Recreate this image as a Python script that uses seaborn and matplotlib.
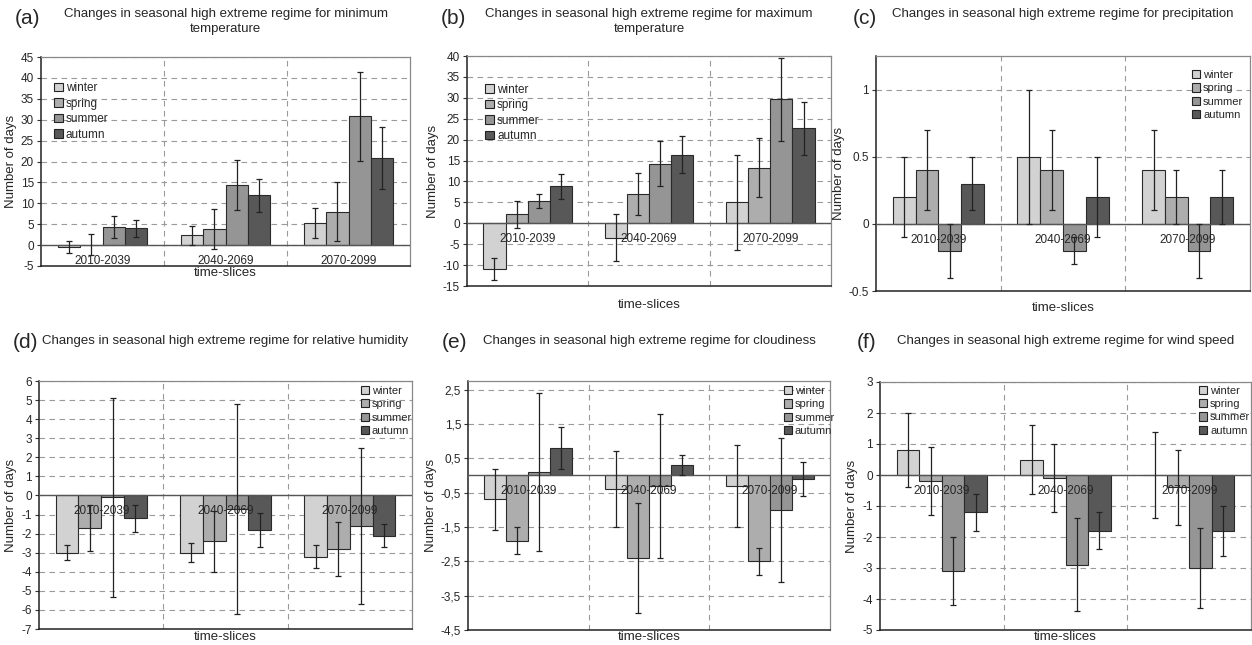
import pandas as pd
import seaborn as sns
import matplotlib.pyplot as plt
import numpy as np
from matplotlib.ticker import FuncFormatter

sns.set_style('white')
plt.rcParams['font.family'] = ['Liberation Sans', 'DejaVu Sans']

slices = ['2010-2039', '2040-2069', '2070-2099']
seasons = ['winter', 'spring', 'summer', 'autumn']
colors = ['#d2d2d2', '#adadad', '#959595', '#585858']

# values, one list per season (winter, spring, summer, autumn)
tmin_val = [[-0.5, 2.3, 5.2], [0.05, 3.8, 8.0], [4.3, 14.4, 30.8], [4.0, 11.9, 20.8]]
tmin_err = [[1.4, 2.2, 3.6], [2.5, 4.8, 7.0], [2.7, 5.9, 10.6], [2.0, 3.9, 7.4]]

tmax_val = [[-11.0, -3.5, 5.0], [2.1, 7.0, 13.3], [5.3, 14.2, 29.6], [8.8, 16.4, 22.7]]
tmax_err = [[2.6, 5.6, 11.4], [3.3, 5.0, 7.0], [1.7, 5.4, 10.0], [3.0, 4.4, 6.3]]

prec_val = [[0.2, 0.5, 0.4], [0.4, 0.4, 0.2], [-0.2, -0.2, -0.2], [0.3, 0.2, 0.2]]
prec_err = [[0.3, 0.5, 0.3], [0.3, 0.3, 0.2], [0.2, 0.1, 0.2], [0.2, 0.3, 0.2]]

rh_val = [[-3.0, -3.0, -3.2], [-1.7, -2.4, -2.8], [-0.1, -0.7, -1.6], [-1.2, -1.8, -2.1]]
rh_err = [[0.4, 0.5, 0.6], [1.2, 1.6, 1.4], [5.2, 5.5, 4.1], [0.7, 0.9, 0.6]]

cloud_val = [[-0.7, -0.4, -0.3], [-1.9, -2.4, -2.5], [0.1, -0.3, -1.0], [0.8, 0.3, -0.1]]
cloud_err = [[0.9, 1.1, 1.2], [0.4, 1.6, 0.4], [2.3, 2.1, 2.1], [0.6, 0.3, 0.5]]

wind_val = [[0.8, 0.5, 0.0], [-0.2, -0.1, -0.4], [-3.1, -2.9, -3.0], [-1.2, -1.8, -1.8]]
wind_err = [[1.2, 1.1, 1.4], [1.1, 1.1, 1.2], [1.1, 1.5, 1.3], [0.6, 0.6, 0.8]]

panels = [
    dict(tag='(a)', title='Changes in seasonal high extreme regime for minimum\ntemperature',
         val=tmin_val, err=tmin_err, ylim=(-5, 45), ticks=np.arange(-5, 46, 5),
         box=(41, 57, 410, 266), leg=(0.035, 0.88), xl=273, fs=8.5),
    dict(tag='(b)', title='Changes in seasonal high extreme regime for maximum\ntemperature',
         val=tmax_val, err=tmax_err, ylim=(-15, 40), ticks=np.arange(-15, 41, 5),
         box=(467, 56, 831, 286), leg=(0.05, 0.88), xl=305, fs=8.5),
    dict(tag='(c)', title='Changes in seasonal high extreme regime for precipitation',
         val=prec_val, err=prec_err, ylim=(-0.5, 1.25), ticks=[-0.5, 0, 0.5, 1],
         box=(876, 56, 1250, 291), leg=(0.845, 0.94), xl=308, fs=8),
    dict(tag='(d)', title='Changes in seasonal high extreme regime for relative humidity',
         val=rh_val, err=rh_err, ylim=(-7, 6), ticks=np.arange(-7, 7, 1),
         box=(39, 381, 412, 629), leg=(0.862, 0.98), xl=637, fs=8),
    dict(tag='(e)', title='Changes in seasonal high extreme regime for cloudiness',
         val=cloud_val, err=cloud_err, ylim=(-4.5, 2.75), ticks=np.arange(-4.5, 2.6, 1.0),
         box=(468, 381, 830, 630), leg=(0.872, 0.98), xl=637, fs=8, comma=True),
    dict(tag='(f)', title='Changes in seasonal high extreme regime for wind speed',
         val=wind_val, err=wind_err, ylim=(-5, 3), ticks=np.arange(-5, 4, 1),
         box=(880, 382, 1251, 630), leg=(0.86, 0.985), xl=637, fs=8),
]

W, H = 1252, 645
fig = plt.figure(figsize=(W / 100, H / 100), dpi=100)

for p in panels:
    x0, y0, x1, y1 = p['box']
    ax = fig.add_axes([x0 / W, 1 - y1 / H, (x1 - x0) / W, (y1 - y0) / H])

    df = pd.DataFrame({
        'slice': np.tile(slices, len(seasons)),
        'season': np.repeat(seasons, len(slices)),
        'value': np.ravel(p['val']),
    })
    sns.barplot(data=df, x='slice', y='value', hue='season', palette=colors,
                width=0.73, errorbar=None, edgecolor='#2a2a2a', linewidth=0.8,
                saturation=1, ax=ax, zorder=3)

    for cont, err in zip(ax.containers, p['err']):
        xs = [b.get_x() + b.get_width() / 2 for b in cont]
        hs = [b.get_height() for b in cont]
        ax.errorbar(xs, hs, yerr=err, fmt='none', ecolor='#222222',
                    elinewidth=0.9, capsize=2, capthick=0.9, zorder=4)

    ax.set_ylim(*p['ylim'])
    ax.set_xlim(-0.5, 2.5)
    ax.set_yticks(p['ticks'])
    if p.get('comma'):
        ax.yaxis.set_major_formatter(FuncFormatter(lambda v, _: f'{v:.1f}'.replace('.', ',')))
    else:
        ax.yaxis.set_major_formatter(FuncFormatter(lambda v, _: f'{v:g}'))
    for t in p['ticks']:
        if t != p['ylim'][0]:
            ax.axhline(t, color='#9a9a9a', lw=0.8, ls=(0, (5, 4)), zorder=1)
    for xv in [0.5, 1.5]:
        ax.axvline(xv, color='#9a9a9a', lw=0.8, ls=(0, (5, 4)), zorder=1)
    ax.axhline(0, color='#555555', lw=1.0, zorder=3.5)

    ax.set_xticks([])
    ax.set_xlabel('')
    for j, s in enumerate(slices):
        ax.annotate(s, xy=(j, 0), xytext=(0, -11.5), textcoords='offset points',
                    ha='center', va='center', fontsize=8.5, zorder=6)

    ax.tick_params(axis='y', direction='out', length=3, width=0.8, pad=2,
                   labelsize=8.5, left=True, color='#333333')
    ax.set_ylabel('Number of days', fontsize=9.5, labelpad=3)
    for side in ['left', 'bottom']:
        ax.spines[side].set_color('#222222')
        ax.spines[side].set_linewidth(1.1)
    for side in ['top', 'right']:
        ax.spines[side].set_color('#888888')
        ax.spines[side].set_linewidth(0.9)

    leg = ax.legend(loc='upper left', bbox_to_anchor=p['leg'], frameon=False,
                    fontsize=p['fs'], handlelength=0.75, handleheight=0.75,
                    handletextpad=0.25, labelspacing=0.3, borderpad=0,
                    borderaxespad=0)
    for h in leg.legend_handles:
        h.set_edgecolor('#222222')
        h.set_linewidth(0.8)

    cx = (x0 + x1) / 2 / W
    top_row = p['tag'] in ('(a)', '(b)', '(c)')
    fig.text(cx, 1 - (8 if top_row else 335) / H, p['title'], ha='center', va='top',
             fontsize=9.5, linespacing=1.35)
    ty = 18 if top_row else 342
    tx = x0 - 23 if p['tag'] in ('(c)', '(f)') else x0 - 26
    fig.text(tx / W, 1 - ty / H, p['tag'], ha='left', va='center', fontsize=15)

    fig.text(cx, 1 - p['xl'] / H, 'time-slices', ha='center', va='center', fontsize=9.5)

fig.savefig('out.png', dpi=100)
